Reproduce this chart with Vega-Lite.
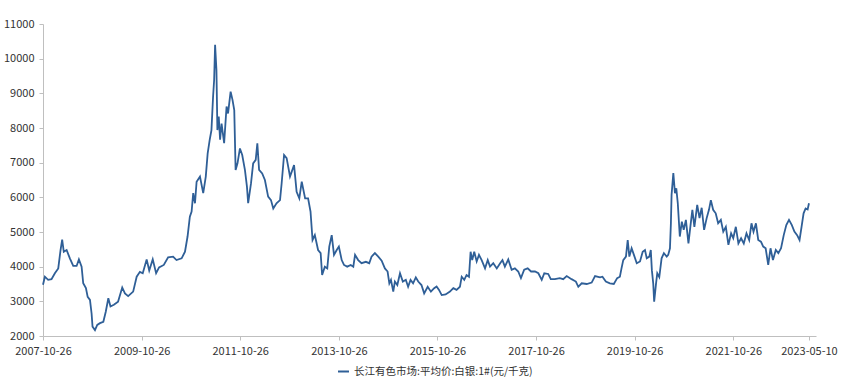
{
  "$schema": "https://vega.github.io/schema/vega-lite/v6.json",
  "autosize": {"type": "none"},
  "width": 773,
  "height": 312,
  "padding": {"left": 43, "top": 24, "right": 47, "bottom": 45},
  "background": "#ffffff",
  "config": {
    "view": {"stroke": null},
    "font": "Noto Sans CJK SC",
    "axis": {"labelFont": "Noto Sans CJK SC", "labelFontSize": 11, "labelColor": "#333333", "domainColor": "#BFBFBF", "tickColor": "#BFBFBF", "grid": false, "title": null}
  },
  "data": {"values": [
    {"date":"2007-10-26","value":3480},{"date":"2007-11-09","value":3710},{"date":"2007-12-03","value":3620},{"date":"2007-12-28","value":3640},
    {"date":"2008-01-22","value":3810},{"date":"2008-02-16","value":3950},{"date":"2008-03-04","value":4480},{"date":"2008-03-16","value":4780},
    {"date":"2008-03-28","value":4430},{"date":"2008-04-18","value":4480},{"date":"2008-05-12","value":4240},{"date":"2008-06-06","value":4020},
    {"date":"2008-07-01","value":4020},{"date":"2008-07-18","value":4210},{"date":"2008-08-07","value":4000},{"date":"2008-08-19","value":3520},
    {"date":"2008-09-08","value":3380},{"date":"2008-09-21","value":3130},{"date":"2008-10-08","value":3040},{"date":"2008-10-20","value":2650},
    {"date":"2008-10-27","value":2270},{"date":"2008-11-14","value":2170},{"date":"2008-12-01","value":2320},{"date":"2008-12-21","value":2370},
    {"date":"2009-01-15","value":2410},{"date":"2009-02-02","value":2700},{"date":"2009-02-21","value":3090},{"date":"2009-03-09","value":2850},
    {"date":"2009-04-03","value":2900},{"date":"2009-05-04","value":2990},{"date":"2009-06-04","value":3400},{"date":"2009-06-24","value":3230},
    {"date":"2009-07-18","value":3150},{"date":"2009-08-24","value":3280},{"date":"2009-09-19","value":3710},{"date":"2009-10-13","value":3850},
    {"date":"2009-11-03","value":3810},{"date":"2009-12-02","value":4210},{"date":"2009-12-21","value":3890},{"date":"2010-01-16","value":4210},
    {"date":"2010-02-10","value":3810},{"date":"2010-03-04","value":3980},{"date":"2010-04-08","value":4050},{"date":"2010-05-10","value":4270},
    {"date":"2010-06-16","value":4290},{"date":"2010-07-11","value":4190},{"date":"2010-08-18","value":4240},{"date":"2010-09-12","value":4430},
    {"date":"2010-10-01","value":4870},{"date":"2010-10-18","value":5440},{"date":"2010-10-31","value":5590},{"date":"2010-11-12","value":6120},
    {"date":"2010-11-25","value":5830},{"date":"2010-12-07","value":6450},{"date":"2011-01-01","value":6600},{"date":"2011-01-25","value":6120},
    {"date":"2011-02-13","value":6600},{"date":"2011-02-27","value":7270},{"date":"2011-03-14","value":7660},{"date":"2011-03-27","value":7940},
    {"date":"2011-04-08","value":8900},{"date":"2011-04-16","value":9390},{"date":"2011-04-23","value":10400},{"date":"2011-05-03","value":9670},
    {"date":"2011-05-10","value":7940},{"date":"2011-05-20","value":8330},{"date":"2011-05-30","value":7660},{"date":"2011-06-10","value":8130},
    {"date":"2011-06-29","value":7560},{"date":"2011-07-17","value":8620},{"date":"2011-07-28","value":8420},{"date":"2011-08-16","value":9050},
    {"date":"2011-08-30","value":8810},{"date":"2011-09-12","value":8520},{"date":"2011-09-22","value":6790},{"date":"2011-10-06","value":6980},
    {"date":"2011-10-24","value":7410},{"date":"2011-11-10","value":7220},{"date":"2011-11-30","value":6790},{"date":"2011-12-15","value":6310},
    {"date":"2011-12-24","value":5830},{"date":"2012-01-14","value":6400},{"date":"2012-01-30","value":6980},{"date":"2012-02-18","value":7080},
    {"date":"2012-03-01","value":7560},{"date":"2012-03-14","value":6790},{"date":"2012-04-06","value":6690},{"date":"2012-04-26","value":6500},
    {"date":"2012-05-20","value":6020},{"date":"2012-06-10","value":5920},{"date":"2012-06-27","value":5680},{"date":"2012-07-21","value":5830},
    {"date":"2012-08-16","value":5920},{"date":"2012-08-28","value":6400},{"date":"2012-09-15","value":7220},{"date":"2012-10-04","value":7130},
    {"date":"2012-10-29","value":6600},{"date":"2012-11-11","value":6740},{"date":"2012-11-28","value":6930},{"date":"2012-12-17","value":6160},
    {"date":"2013-01-06","value":5970},{"date":"2013-01-24","value":6450},{"date":"2013-02-18","value":5970},{"date":"2013-03-12","value":5970},
    {"date":"2013-03-30","value":5590},{"date":"2013-04-14","value":4770},{"date":"2013-05-01","value":4910},{"date":"2013-05-25","value":4480},
    {"date":"2013-06-13","value":4390},{"date":"2013-06-24","value":3760},{"date":"2013-07-14","value":4000},{"date":"2013-08-01","value":3950},
    {"date":"2013-08-16","value":4580},{"date":"2013-09-03","value":4910},{"date":"2013-09-20","value":4340},{"date":"2013-10-10","value":4480},
    {"date":"2013-10-26","value":4580},{"date":"2013-11-16","value":4190},{"date":"2013-12-03","value":4050},{"date":"2013-12-27","value":4000},
    {"date":"2014-01-22","value":4050},{"date":"2014-02-10","value":4000},{"date":"2014-02-23","value":4340},{"date":"2014-03-18","value":4190},
    {"date":"2014-04-12","value":4100},{"date":"2014-05-14","value":4140},{"date":"2014-06-08","value":4100},{"date":"2014-06-25","value":4290},
    {"date":"2014-07-20","value":4390},{"date":"2014-08-14","value":4290},{"date":"2014-09-08","value":4170},{"date":"2014-10-02","value":3950},
    {"date":"2014-10-22","value":3860},{"date":"2014-11-04","value":3520},{"date":"2014-11-16","value":3620},{"date":"2014-12-03","value":3280},
    {"date":"2014-12-15","value":3570},{"date":"2015-01-02","value":3470},{"date":"2015-01-22","value":3810},{"date":"2015-02-12","value":3570},
    {"date":"2015-03-06","value":3620},{"date":"2015-03-23","value":3420},{"date":"2015-04-10","value":3620},{"date":"2015-04-29","value":3520},
    {"date":"2015-05-19","value":3690},{"date":"2015-06-06","value":3570},{"date":"2015-06-30","value":3470},{"date":"2015-07-20","value":3230},
    {"date":"2015-08-15","value":3420},{"date":"2015-09-08","value":3280},{"date":"2015-10-02","value":3380},{"date":"2015-10-20","value":3430},
    {"date":"2015-11-07","value":3330},{"date":"2015-11-27","value":3180},{"date":"2015-12-26","value":3200},{"date":"2016-01-27","value":3280},
    {"date":"2016-02-21","value":3380},{"date":"2016-03-16","value":3330},{"date":"2016-04-10","value":3420},{"date":"2016-04-23","value":3710},
    {"date":"2016-05-12","value":3620},{"date":"2016-05-29","value":3760},{"date":"2016-06-16","value":3710},{"date":"2016-06-28","value":4430},
    {"date":"2016-07-10","value":4190},{"date":"2016-07-25","value":4430},{"date":"2016-08-12","value":4150},{"date":"2016-08-29","value":4340},
    {"date":"2016-09-18","value":4190},{"date":"2016-10-13","value":3950},{"date":"2016-11-02","value":4190},{"date":"2016-11-19","value":4000},
    {"date":"2016-12-13","value":4100},{"date":"2017-01-08","value":3950},{"date":"2017-02-02","value":4100},{"date":"2017-02-19","value":4190},
    {"date":"2017-03-09","value":4000},{"date":"2017-04-03","value":4210},{"date":"2017-04-28","value":3910},{"date":"2017-05-22","value":3950},
    {"date":"2017-06-16","value":3860},{"date":"2017-07-06","value":3670},{"date":"2017-07-30","value":3910},{"date":"2017-08-25","value":3950},
    {"date":"2017-09-19","value":3860},{"date":"2017-10-18","value":3860},{"date":"2017-11-12","value":3810},{"date":"2017-12-07","value":3620},
    {"date":"2017-12-26","value":3810},{"date":"2018-01-24","value":3790},{"date":"2018-02-12","value":3640},{"date":"2018-03-14","value":3640},
    {"date":"2018-04-20","value":3670},{"date":"2018-05-15","value":3640},{"date":"2018-06-10","value":3730},{"date":"2018-07-16","value":3640},
    {"date":"2018-08-17","value":3570},{"date":"2018-09-04","value":3420},{"date":"2018-09-29","value":3520},{"date":"2018-11-05","value":3500},
    {"date":"2018-12-12","value":3540},{"date":"2019-01-06","value":3730},{"date":"2019-02-12","value":3690},{"date":"2019-03-02","value":3710},
    {"date":"2019-03-27","value":3570},{"date":"2019-04-26","value":3520},{"date":"2019-05-25","value":3500},{"date":"2019-06-19","value":3670},
    {"date":"2019-07-09","value":3710},{"date":"2019-07-21","value":3950},{"date":"2019-08-03","value":4190},{"date":"2019-08-23","value":4290},
    {"date":"2019-09-05","value":4770},{"date":"2019-09-17","value":4290},{"date":"2019-10-04","value":4530},{"date":"2019-10-21","value":4340},
    {"date":"2019-11-11","value":4100},{"date":"2019-12-05","value":4150},{"date":"2019-12-25","value":4430},{"date":"2020-01-11","value":4480},
    {"date":"2020-01-24","value":4240},{"date":"2020-02-12","value":4290},{"date":"2020-02-23","value":4480},{"date":"2020-03-02","value":3900},
    {"date":"2020-03-12","value":3520},{"date":"2020-03-19","value":2990},{"date":"2020-04-02","value":3520},{"date":"2020-04-11","value":3810},
    {"date":"2020-04-26","value":3700},{"date":"2020-05-13","value":4240},{"date":"2020-05-30","value":4390},{"date":"2020-06-20","value":4290},
    {"date":"2020-07-01","value":4340},{"date":"2020-07-14","value":4530},{"date":"2020-07-21","value":5250},{"date":"2020-07-26","value":6070},
    {"date":"2020-08-08","value":6700},{"date":"2020-08-20","value":6120},{"date":"2020-08-30","value":6260},{"date":"2020-09-10","value":5830},
    {"date":"2020-09-25","value":4870},{"date":"2020-10-10","value":5300},{"date":"2020-10-24","value":5060},{"date":"2020-11-09","value":5350},
    {"date":"2020-11-28","value":4670},{"date":"2020-12-12","value":5150},{"date":"2020-12-27","value":5640},{"date":"2021-01-11","value":5150},
    {"date":"2021-02-01","value":5780},{"date":"2021-02-18","value":5400},{"date":"2021-03-06","value":5700},{"date":"2021-03-24","value":5060},
    {"date":"2021-04-12","value":5400},{"date":"2021-04-29","value":5640},{"date":"2021-05-13","value":5920},{"date":"2021-05-30","value":5640},
    {"date":"2021-06-18","value":5540},{"date":"2021-07-06","value":5250},{"date":"2021-07-26","value":5350},{"date":"2021-08-13","value":5010},
    {"date":"2021-09-01","value":5150},{"date":"2021-09-20","value":4630},{"date":"2021-10-10","value":4960},{"date":"2021-10-26","value":4820},
    {"date":"2021-11-14","value":5150},{"date":"2021-12-03","value":4670},{"date":"2021-12-23","value":4820},{"date":"2022-01-12","value":4670},
    {"date":"2022-02-01","value":4960},{"date":"2022-02-21","value":4770},{"date":"2022-03-10","value":5250},{"date":"2022-03-25","value":5010},
    {"date":"2022-04-12","value":5250},{"date":"2022-04-29","value":4770},{"date":"2022-05-19","value":4720},{"date":"2022-06-05","value":4580},
    {"date":"2022-06-23","value":4530},{"date":"2022-07-12","value":4050},{"date":"2022-07-29","value":4530},{"date":"2022-08-16","value":4190},
    {"date":"2022-09-06","value":4480},{"date":"2022-09-25","value":4390},{"date":"2022-10-15","value":4530},{"date":"2022-11-04","value":4910},
    {"date":"2022-11-23","value":5200},{"date":"2022-12-13","value":5350},{"date":"2023-01-03","value":5200},{"date":"2023-01-22","value":5010},
    {"date":"2023-02-11","value":4910},{"date":"2023-03-01","value":4770},{"date":"2023-03-16","value":5150},{"date":"2023-03-31","value":5540},
    {"date":"2023-04-15","value":5680},{"date":"2023-04-30","value":5650},{"date":"2023-05-10","value":5830}
  ]},
  "mark": {"type": "line", "strokeWidth": 1.8, "interpolate": "linear"},
  "encoding": {
    "x": {
      "field": "date", "type": "temporal",
      "scale": {"type": "utc", "domain": [{"year": 2007, "month": 10, "date": 26, "utc": true}, {"year": 2023, "month": 7, "date": 1, "utc": true}], "nice": false},
      "axis": {
        "values": [
          {"year": 2007, "month": 10, "date": 26, "utc": true},
          {"year": 2009, "month": 10, "date": 26, "utc": true},
          {"year": 2011, "month": 10, "date": 26, "utc": true},
          {"year": 2013, "month": 10, "date": 26, "utc": true},
          {"year": 2015, "month": 10, "date": 26, "utc": true},
          {"year": 2017, "month": 10, "date": 26, "utc": true},
          {"year": 2019, "month": 10, "date": 26, "utc": true},
          {"year": 2021, "month": 10, "date": 26, "utc": true},
          {"year": 2023, "month": 5, "date": 10, "utc": true}
        ],
        "labelExpr": "utcFormat(datum.value, '%Y-%m-%d')",
        "labelFlush": false, "labelOverlap": false, "labelPadding": 5, "tickSize": 4
      }
    },
    "y": {
      "field": "value", "type": "quantitative",
      "scale": {"domain": [2000, 11000], "nice": false, "zero": false},
      "axis": {"values": [2000, 3000, 4000, 5000, 6000, 7000, 8000, 9000, 10000, 11000], "format": "d", "tickSize": 4, "labelPadding": 5}
    },
    "color": {
      "datum": "长江有色市场:平均价:白银:1#(元/千克)",
      "type": "nominal",
      "scale": {"range": ["#2F5F97"]},
      "legend": {
        "title": null, "orient": "none", "legendX": 294, "legendY": 341,
        "symbolType": "stroke", "symbolStrokeWidth": 2, "symbolSize": 120,
        "labelFont": "Noto Sans CJK SC", "labelFontSize": 10.5, "labelColor": "#333333", "labelLimit": 400
      }
    }
  }
}
